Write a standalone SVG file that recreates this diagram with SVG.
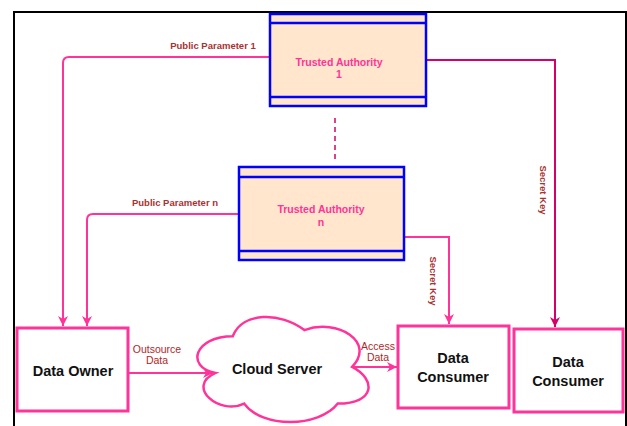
<svg xmlns="http://www.w3.org/2000/svg" width="627" height="426" viewBox="0 0 627 426">
<style>
.frame{fill:none;stroke:#000;stroke-width:2}
.ta{fill:#ffe6cc;stroke:#0000ff;stroke-width:2.5}
.tal{stroke:#0000ff;stroke-width:2.5}
.tat{font-family:"Liberation Sans",Arial,sans-serif;font-size:10.5px;font-weight:bold;fill:#ff3399;text-anchor:middle}
.box{fill:#fff;stroke:#ff3399;stroke-width:3}
.cloud{fill:#fff;stroke:#ff3399;stroke-width:2.5}
.nt{font-family:"Liberation Sans",Arial,sans-serif;font-size:14.5px;font-weight:bold;fill:#111;text-anchor:middle}
.c{fill:none;stroke:#ff3399;stroke-width:2}
.cd{fill:none;stroke:#d6006b;stroke-width:2}
.lb{font-family:"Liberation Sans",Arial,sans-serif;font-size:9.5px;font-weight:bold;fill:#a83232}
.lr{font-family:"Liberation Sans",Arial,sans-serif;font-size:10.5px;fill:#b02828;text-anchor:middle}
</style>
<defs>
<marker id="ap" viewBox="0 0 10 10" refX="10" refY="5" markerWidth="10" markerHeight="10" markerUnits="userSpaceOnUse" orient="auto">
<path d="M0,0 L10,5 L0,10 L3,5 z" fill="#ff3399"/>
</marker>
<marker id="ad" viewBox="0 0 10 10" refX="10" refY="5" markerWidth="10" markerHeight="10" markerUnits="userSpaceOnUse" orient="auto">
<path d="M0,0 L10,5 L0,10 L3,5 z" fill="#d6006b"/>
</marker>
</defs>
<rect class="frame" x="14" y="12" width="612" height="420"/>

<g id="connectors">
<path class="c" d="M270 57 H69 Q63 57 63 63 V326" marker-end="url(#ap)"/>
<path class="c" d="M239 214 H93 Q87 214 87 220 V326" marker-end="url(#ap)"/>
<path class="cd" d="M426 60 H555 V327" marker-end="url(#ad)"/>
<path class="c" d="M404 237 H449 V324" marker-end="url(#ap)"/>
<path class="c" d="M129 373 H213" marker-end="url(#ap)"/>
<path class="c" d="M352 367 H397" marker-end="url(#ap)"/>
<path d="M335 118 V161" fill="none" stroke="#e0408a" stroke-width="2" stroke-dasharray="5,4"/>
<text class="lb" x="213" y="49" text-anchor="middle">Public Parameter 1</text>
<text class="lb" x="175" y="206" text-anchor="middle">Public Parameter n</text>
<text class="lb" transform="translate(540,190) rotate(90)" text-anchor="middle">Secret Key</text>
<text class="lb" transform="translate(430,281) rotate(90)" text-anchor="middle">Secret Key</text>
<text class="lr" x="157" y="353">Outsource</text>
<text class="lr" x="157" y="364">Data</text>
<text class="lr" x="378" y="350">Access</text>
<text class="lr" x="378" y="361">Data</text>
</g>

<g id="ta1">
<rect class="ta" x="270" y="14" width="156" height="92"/>
<line class="tal" x1="270" y1="23" x2="426" y2="23"/>
<line class="tal" x1="270" y1="97" x2="426" y2="97"/>
<text class="tat" x="339" y="66">Trusted Authority</text>
<text class="tat" x="339" y="78">1</text>
</g>

<g id="tan">
<rect class="ta" x="239" y="167" width="165" height="93"/>
<line class="tal" x1="239" y1="177" x2="404" y2="177"/>
<line class="tal" x1="239" y1="251" x2="404" y2="251"/>
<text class="tat" x="321" y="213">Trusted Authority</text>
<text class="tat" x="321" y="226">n</text>
</g>

<g id="data-owner">
<rect class="box" x="17" y="328" width="111" height="83"/>
<text class="nt" x="73" y="376">Data Owner</text>
</g>

<g id="cloud-server">
<path class="cloud" transform="translate(185,305.6) scale(191,122.5)" vector-effect="non-scaling-stroke" d="M0.25 0.25 C0.05 0.25 0 0.5 0.16 0.55 C0 0.66 0.18 0.9 0.31 0.8 C0.4 1 0.7 1 0.8 0.8 C1 0.8 1 0.6 0.875 0.5 C1 0.3 0.8 0.1 0.625 0.2 C0.5 0.05 0.3 0.05 0.25 0.25 Z"/>
<text class="nt" x="277" y="374">Cloud Server</text>
</g>

<g id="data-consumer-1">
<rect class="box" x="398" y="326" width="111" height="82"/>
<text class="nt" x="453" y="363">Data</text>
<text class="nt" x="453" y="382">Consumer</text>
</g>

<g id="data-consumer-2">
<rect class="box" x="514" y="329" width="109" height="83"/>
<text class="nt" x="568" y="367">Data</text>
<text class="nt" x="568" y="386">Consumer</text>
</g>
</svg>
